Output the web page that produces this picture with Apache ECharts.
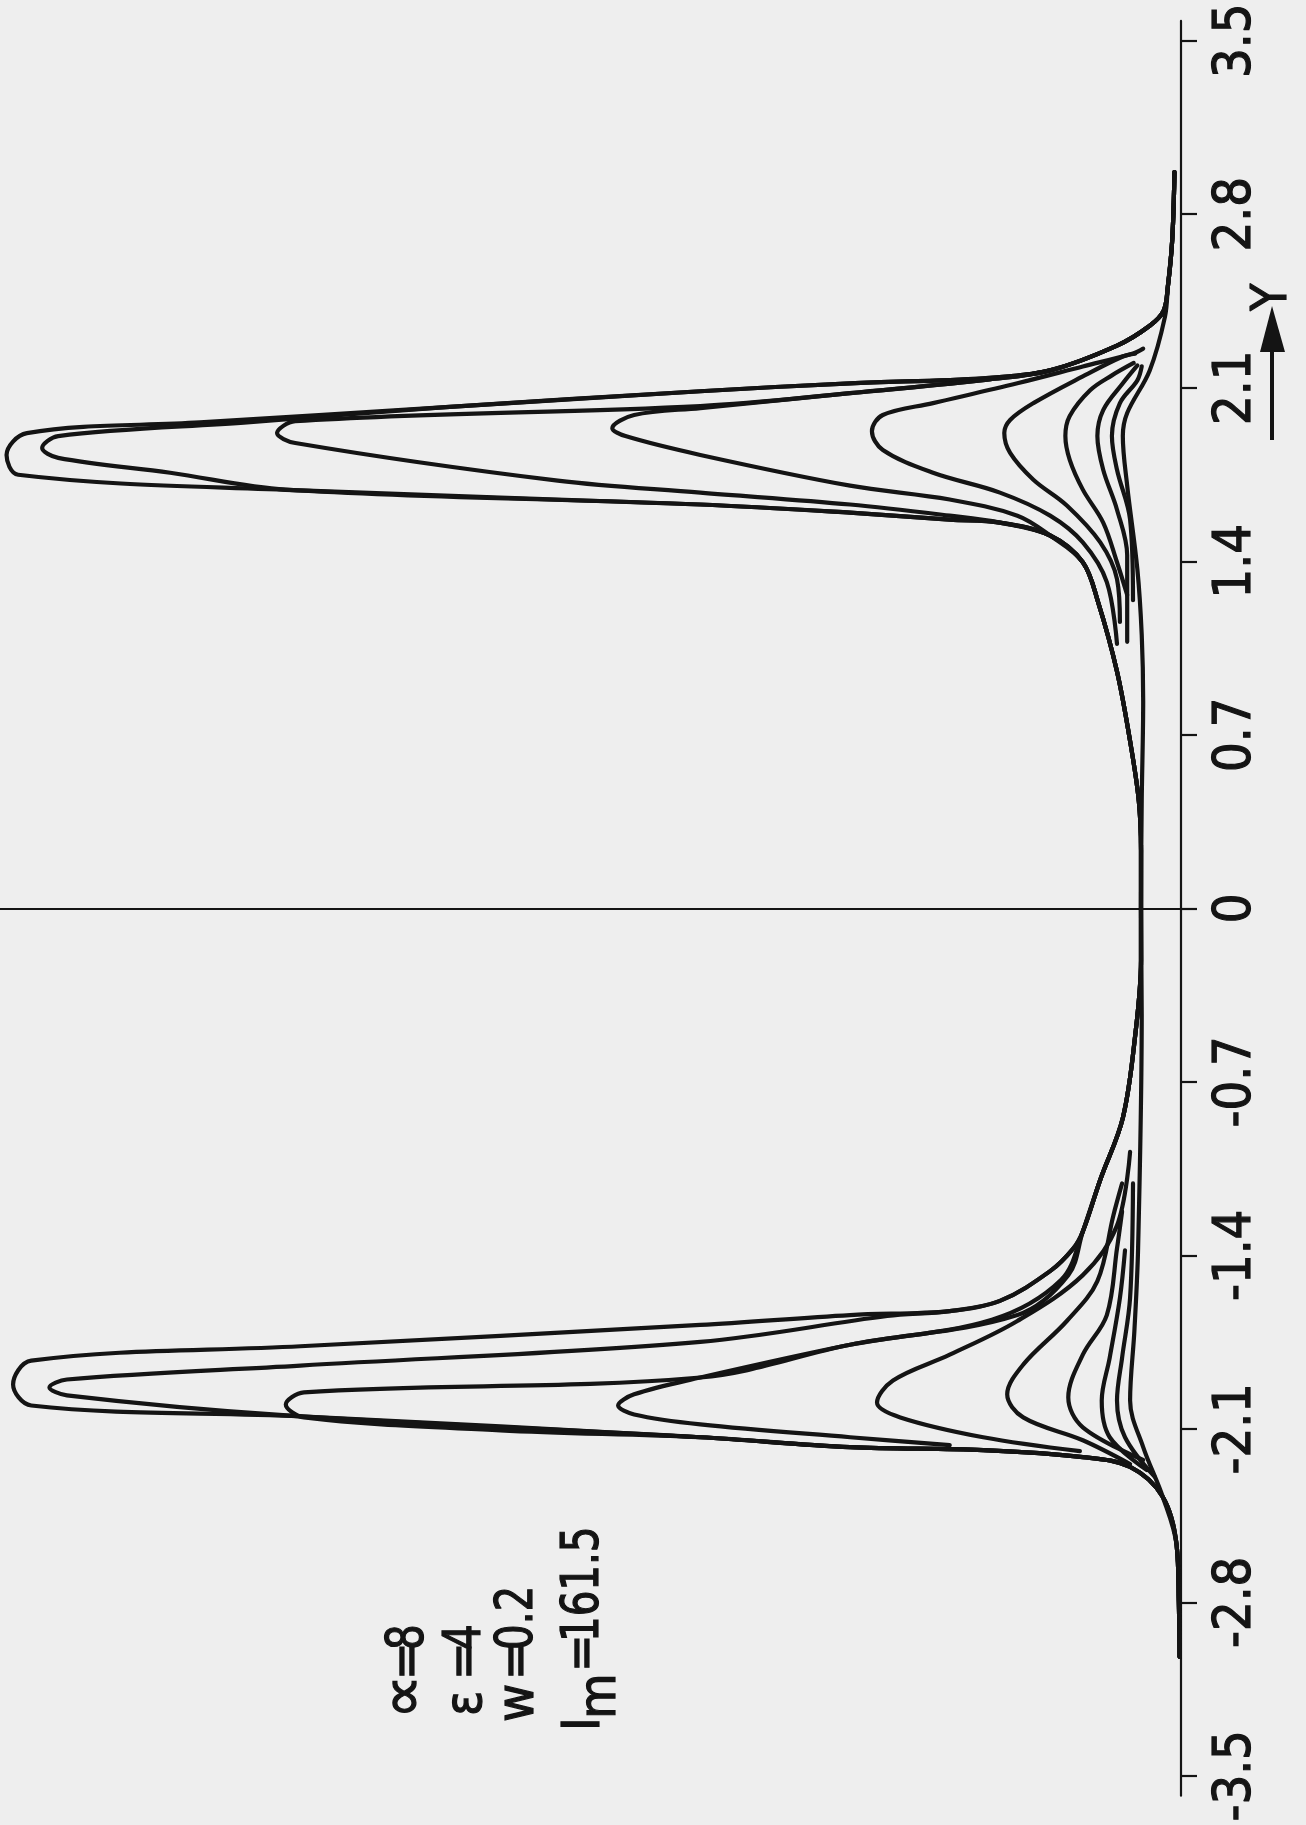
<!DOCTYPE html>
<html>
<head>
<meta charset="utf-8">
<script src="https://cdn.jsdelivr.net/npm/echarts@6/dist/echarts.min.js"></script>
<style>
html,body{margin:0;padding:0;background:#eeeeee;}
#c{width:1306px;height:1825px;}
</style>
</head>
<body>
<div id="c"></div>
<script>
// Tick labels on the Y axis
const yTicks = [-3.5, -2.8, -2.1, -1.4, -0.7, 0, 0.7, 1.4, 2.1, 2.8, 3.5];
const paramNames = ['∝', 'ε', 'w', 'I'];
const paramValues = ['8', '4', '0.2', '161.5'];

// Curves as [Y, intensity] pairs, ordered from low Y to high Y
const wingBottom = [[-3.02, 0.2], [-2.8, 0.3], [-2.57, 0.6], [-2.375, 2.5], [-2.254, 7.0], [-2.214, 13.5]];
const wingTop = [[2.27, 8.8], [2.35, 4.3], [2.41, 2.4], [2.51, 1.8], [2.70, 1.2], [2.97, 0.9]];
const bundleMid = [[-1.625, 31.8], [-1.584, 24.9], [-1.464, 18.0], [-1.372, 14.8], [-1.304, 13.5], [-1.095, 11.1],
  [-0.846, 8.0], [-0.513, 6.3], [-0.21, 5.5], [0, 5.5], [0.233, 5.5], [0.433, 5.8], [0.674, 7.0], [0.955, 8.8],
  [1.235, 11.4], [1.396, 13.5], [1.504, 18.0], [1.556, 24.9]];

const c1Low = [[-2.186, 27.2], [-2.174, 45.5], [-2.134, 66.1], [-2.05, 121.1], [-2.006, 158.1], [-1.921, 160.6],
  [-1.825, 158.1], [-1.767, 121.1], [-1.681, 66.1], [-1.641, 45.5]];
const c1High = [[1.568, 31.8], [1.596, 45.5], [1.629, 66.1], [1.686, 121.1], [1.749, 159.9], [1.829, 161.5],
  [1.917, 158.7], [1.96, 134.9], [2.022, 101.1], [2.086, 66.1], [2.118, 45.5], [2.138, 27.2], [2.17, 18.0]];

const c2Low = [[-2.186, 27.2], [-2.174, 45.5], [-2.134, 66.1], [-2.046, 123.0], [-1.965, 153.2], [-1.933, 155.6],
  [-1.901, 153.2], [-1.845, 121.1], [-1.749, 66.1], [-1.645, 40.4]];
const c2High = [[1.568, 31.8], [1.596, 45.5], [1.629, 66.1], [1.689, 123.1], [1.757, 139.0], [1.817, 154.4],
  [1.857, 156.6], [1.905, 154.4], [1.961, 128.0], [2.022, 101.1], [2.086, 66.1], [2.118, 45.5], [2.138, 27.2], [2.17, 18.0]];

const c3Low = [[-2.186, 27.2], [-2.174, 45.5], [-2.134, 66.1], [-2.106, 93.6], [-2.054, 120.6], [-2.002, 123.1],
  [-1.953, 120.6], [-1.893, 66.1], [-1.761, 45.5], [-1.641, 22.5], [-1.48, 15.5]];
const c3Mid = [[-1.304, 13.5], [-1.095, 11.1], [-0.846, 8.0], [-0.513, 6.3], [-0.21, 5.5], [0, 5.5], [0.233, 5.5],
  [0.433, 5.8], [0.674, 7.0], [0.955, 8.8], [1.235, 11.4], [1.396, 13.5], [1.504, 18.0], [1.556, 24.9]];
const c3High = [[1.584, 31.8], [1.629, 45.5], [1.677, 66.1], [1.725, 85.7], [1.877, 121.8], [1.917, 124.3],
  [1.965, 121.8], [2.026, 66.1], [2.078, 45.5], [2.134, 26.3], [2.17, 18.0]];

const c4Low = [[-2.166, 31.8], [-2.134, 45.5], [-2.082, 66.1], [-2.042, 75.2], [-2.006, 77.4], [-1.961, 75.2],
  [-1.893, 66.1], [-1.761, 45.5], [-1.66, 26.0], [-1.5, 16.5]];
const c4Mid = [[-1.304, 13.5], [-1.095, 11.1], [-0.846, 8.0], [-0.513, 6.3], [-0.21, 5.5], [0, 5.5], [0.233, 5.5],
  [0.433, 5.8], [0.674, 7.0], [0.955, 8.8], [1.235, 11.4], [1.396, 13.5], [1.504, 18.0]];
const c4High = [[1.584, 22.5], [1.649, 31.8], [1.705, 45.5], [1.829, 66.1], [1.905, 76.4], [1.937, 78.2],
  [1.99, 75.2], [2.018, 66.1], [2.078, 45.5], [2.134, 26.3], [2.17, 18.0]];

const c5Low = [[-2.19, 13.9], [-2.134, 27.2], [-2.054, 38.6], [-1.994, 41.8], [-1.905, 39.6], [-1.801, 31.8],
  [-1.665, 22.5], [-1.48, 13.5], [-1.28, 8.8], [-0.983, 7.0]];
const c5High = [[1.067, 8.8], [1.316, 10.2], [1.476, 13.5], [1.584, 18.0], [1.677, 24.9], [1.757, 34.1], [1.849, 41.0],
  [1.925, 42.5], [1.99, 41.0], [2.038, 34.1], [2.118, 22.5], [2.186, 13.5], [2.238, 6.6], [2.258, 5.2]];

const c6Low = [[-2.242, 7.0], [-2.146, 13.5], [-2.054, 21.7], [-1.961, 23.9], [-1.841, 21.7], [-1.665, 15.7],
  [-1.504, 11.5], [-1.239, 9.3], [-1.11, 8.1]];
const c6High = [[1.155, 8.4], [1.328, 8.8], [1.476, 11.1], [1.625, 15.7], [1.729, 20.3], [1.837, 23.5], [1.917, 24.3],
  [1.97, 23.5], [2.038, 20.3], [2.146, 13.5], [2.226, 8.0], [2.238, 6.3]];

const c7Low = [[-2.226, 5.2], [-2.094, 13.5], [-1.973, 15.5], [-1.801, 13.5], [-1.641, 10.2], [-1.372, 8.8], [-1.223, 8.1]];
const c7High = [[1.264, 7.4], [1.396, 8.8], [1.556, 10.7], [1.689, 13.5], [1.809, 15.3], [1.905, 15.9], [1.986, 15.3],
  [2.09, 12.5], [2.15, 9.5], [2.2, 6.5]];

const c8Low = [[-2.266, 4.7], [-2.134, 9.8], [-1.986, 10.9], [-1.813, 9.8], [-1.572, 8.4], [-1.38, 7.7]];
const c8High = [[1.075, 7.4], [1.424, 7.4], [1.608, 8.8], [1.769, 10.7], [1.905, 11.5], [2.01, 10.7], [2.118, 8.0], [2.19, 6.0]];

const c9Low = [[-2.294, 3.6], [-2.134, 7.7], [-1.986, 8.8], [-1.813, 8.1], [-1.572, 7.0], [-1.11, 6.6]];
const c9High = [[1.243, 6.6], [1.568, 7.0], [1.769, 8.8], [1.905, 9.5], [2.038, 8.4], [2.13, 6.0], [2.186, 5.4]];

const c10 = [[-3.02, 0.2], [-2.8, 0.3], [-2.57, 0.6], [-2.375, 2.5], [-2.174, 5.2], [-1.986, 7.0], [-1.7, 6.4],
  [-1.372, 5.9], [-0.43, 5.4], [0, 5.5], [0.433, 5.4], [0.834, 5.2], [1.103, 5.4], [1.368, 6.0], [1.705, 7.4],
  [1.905, 8.0], [1.998, 7.4], [2.17, 4.3], [2.387, 2.2], [2.51, 1.8], [2.70, 1.2], [2.97, 0.9]];

const curves = [
  wingBottom.concat(c1Low, bundleMid, c1High, wingTop),
  wingBottom.concat(c2Low, bundleMid, c2High, wingTop),
  wingBottom.concat(c3Low, c3Mid, c3High, wingTop),
  c4Low.concat(c4Mid, c4High, wingTop),
  c5Low, c5High, c6Low, c6High, c7Low, c7High, c8Low, c8High, c9Low, c9High,
  c10
];

const chart = echarts.init(document.getElementById('c'), null, {renderer: 'canvas'});
const INK = '#141414';
const FONT = '"Liberation Sans Narrow", "DejaVu Sans Condensed", sans-serif';

const series = curves.map(function (pts) {
  return {
    type: 'line',
    data: pts.map(function (p) { return [p[1], p[0]]; }),
    showSymbol: false,
    smooth: 0.35,
    lineStyle: {color: INK, width: 4.2, cap: 'round', join: 'round'},
    silent: true,
    animation: false
  };
});

function rotText(text, x, y, size, family, sx) {
  return {
    type: 'text', x: x, y: y, rotation: Math.PI / 2, scaleX: sx || 1,
    style: {text: text, fill: INK, fontSize: size || 48, fontFamily: family || FONT,
      stroke: INK, lineWidth: 1.2,
      textAlign: 'left', textVerticalAlign: 'middle', align: 'left', verticalAlign: 'middle'}
  };
}

const rowX = [410, 467, 519, 585];
const nameY = [1719, 1716, 1722, 1731];
const graphics = [];
for (let i = 0; i < 4; i++) {
  if (i === 0) {
    graphics.push(rotText(paramNames[i], rowX[i] - 3, nameY[i], 62, '"DejaVu Sans", sans-serif'));
  } else {
    graphics.push(rotText(paramNames[i], rowX[i], nameY[i], 52));
  }
  graphics.push(rotText('=', rowX[i], i === 3 ? 1672 : 1680, 50));
  graphics.push(rotText(paramValues[i], rowX[i], i === 3 ? 1642 : 1650, 51, null, 0.88));
}
graphics.push(rotText('m', 601, 1719, 52));
// Y axis direction arrow
graphics.push({type: 'line', shape: {x1: 1272, y1: 440, x2: 1272, y2: 345}, style: {stroke: INK, lineWidth: 4}});
graphics.push({type: 'polygon', shape: {points: [[1272, 306], [1260, 352], [1285, 352]]}, style: {fill: INK}});
graphics.push(rotText('Y', 1273, 311, 50));

chart.setOption({
  backgroundColor: '#eeeeee',
  animation: false,
  grid: {left: 0, right: 125, top: 16, bottom: 25, containLabel: false},
  xAxis: {
    type: 'value', inverse: true, min: 0, max: 162.4,
    axisLine: {show: true, onZero: true, lineStyle: {color: INK, width: 2}},
    axisTick: {show: false}, axisLabel: {show: false}, splitLine: {show: false}
  },
  yAxis: {
    type: 'value', position: 'right', min: -3.58, max: 3.58,
    axisLine: {show: true, onZero: false, lineStyle: {color: INK, width: 2.2}},
    axisTick: {show: true, customValues: yTicks, length: 16, lineStyle: {color: INK, width: 2.2}},
    axisLabel: {
      show: true, customValues: yTicks, rotate: 90, margin: 29,
      fontSize: 52, fontFamily: FONT, color: INK,
      textBorderColor: INK, textBorderWidth: 1.2,
      formatter: function (v) { return String(v); }
    },
    splitLine: {show: false}
  },
  series: series,
  graphic: graphics
});
</script>
</body>
</html>
